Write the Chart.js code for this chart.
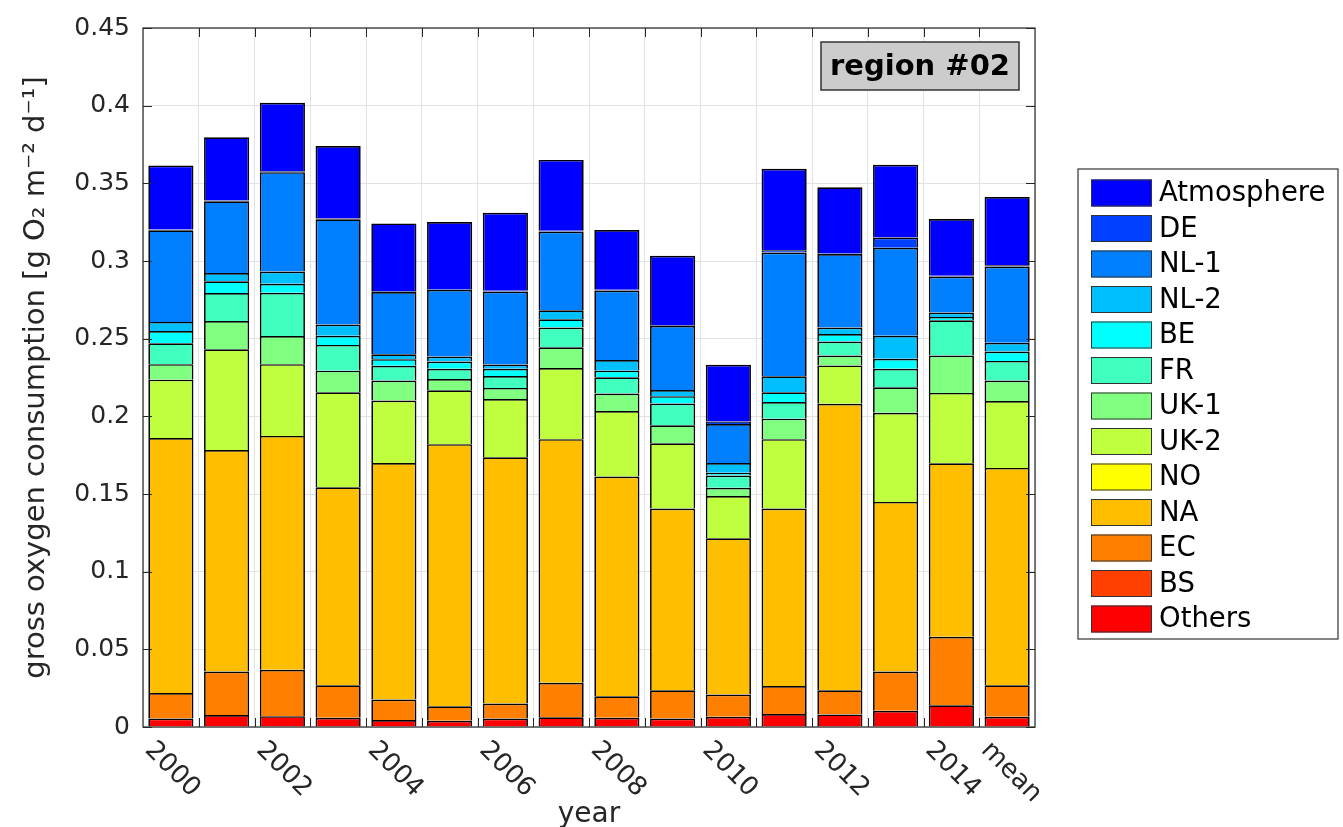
<!DOCTYPE html>
<html>
<head>
<meta charset="utf-8">
<script src="https://cdn.jsdelivr.net/npm/chart.js@4.4.0/dist/chart.umd.min.js"></script>
<style>
  html, body { margin: 0; padding: 0; background: #fff; }
  #wrap { width: 1343px; height: 827px; }
</style>
</head>
<body>
<div id="wrap"><canvas id="chart" width="1343" height="827"></canvas></div>
<script>
// categories on the x axis
const years = ["2000", "2001", "2002", "2003", "2004", "2005", "2006", "2007",
  "2008", "2009", "2010", "2011", "2012", "2013", "2014", "mean"];
// labels printed under the axis (every second year + mean)
const tickLabels = ["2000", "", "2002", "", "2004", "", "2006", "", "2008", "",
  "2010", "", "2012", "", "2014", "mean"];

// contributions per source [g O2 m-2 d-1], stacked bottom to top
const others = [0.0055, 0.0077, 0.0070, 0.0060, 0.0045, 0.0040, 0.0055, 0.0062, 0.0060, 0.0055, 0.0066, 0.0083, 0.0081, 0.0104, 0.0140, 0.0066];
const bs = [0, 0, 0, 0, 0, 0, 0, 0, 0, 0, 0, 0, 0, 0, 0, 0];
const ec = [0.0164, 0.0280, 0.0298, 0.0208, 0.0132, 0.0094, 0.0096, 0.0223, 0.0138, 0.0181, 0.0143, 0.0181, 0.0155, 0.0253, 0.0441, 0.0202];
const na = [0.1641, 0.1426, 0.1506, 0.1275, 0.1523, 0.1687, 0.1585, 0.1568, 0.1415, 0.1170, 0.1006, 0.1142, 0.1845, 0.1092, 0.1117, 0.1400];
const no = [0, 0, 0, 0, 0, 0, 0, 0, 0, 0, 0, 0, 0, 0, 0, 0];
const uk2 = [0.0376, 0.0649, 0.0462, 0.0612, 0.0402, 0.0347, 0.0376, 0.0458, 0.0421, 0.0420, 0.0272, 0.0447, 0.0247, 0.0574, 0.0453, 0.0430];
const uk1 = [0.0100, 0.0181, 0.0181, 0.0139, 0.0128, 0.0072, 0.0071, 0.0134, 0.0113, 0.0116, 0.0053, 0.0132, 0.0064, 0.0164, 0.0241, 0.0132];
const fr = [0.0134, 0.0181, 0.0279, 0.0166, 0.0095, 0.0066, 0.0077, 0.0127, 0.0104, 0.0140, 0.0079, 0.0107, 0.0089, 0.0119, 0.0227, 0.0127];
const be = [0.0079, 0.0076, 0.0057, 0.0059, 0.0043, 0.0047, 0.0046, 0.0053, 0.0043, 0.0048, 0.0017, 0.0063, 0.0049, 0.0064, 0.0021, 0.0060];
const nl2 = [0.0059, 0.0053, 0.0079, 0.0072, 0.0032, 0.0032, 0.0028, 0.0058, 0.0068, 0.0040, 0.0064, 0.0103, 0.0042, 0.0149, 0.0028, 0.0057];
const nl1 = [0.0590, 0.0462, 0.0640, 0.0677, 0.0400, 0.0430, 0.0470, 0.0507, 0.0448, 0.0413, 0.0250, 0.0797, 0.0473, 0.0566, 0.0232, 0.0490];
const de = [0.0005, 0.0005, 0.0005, 0.0005, 0.0005, 0.0005, 0.0005, 0.0005, 0.0005, 0.0005, 0.0016, 0.0015, 0.0005, 0.0066, 0.0005, 0.0008];
const atmosphere = [0.0412, 0.0406, 0.0442, 0.0467, 0.0437, 0.0431, 0.0501, 0.0456, 0.0385, 0.0446, 0.0366, 0.0524, 0.0424, 0.0468, 0.0365, 0.0440];

const series = [
  { label: "Others", data: others, color: "#ff0000" },
  { label: "BS", data: bs, color: "#ff4000" },
  { label: "EC", data: ec, color: "#ff8000" },
  { label: "NA", data: na, color: "#ffbf00" },
  { label: "NO", data: no, color: "#ffff00" },
  { label: "UK-2", data: uk2, color: "#bfff40" },
  { label: "UK-1", data: uk1, color: "#80ff80" },
  { label: "FR", data: fr, color: "#40ffbf" },
  { label: "BE", data: be, color: "#00ffff" },
  { label: "NL-2", data: nl2, color: "#00bfff" },
  { label: "NL-1", data: nl1, color: "#0080ff" },
  { label: "DE", data: de, color: "#0040ff" },
  { label: "Atmosphere", data: atmosphere, color: "#0000ff" },
];

const FONT = '"DejaVu Sans", sans-serif';
const AXIS = "#262626";
const GRID = "#e2e2e2";

// box, inward ticks, rotated x labels, region tag and boxed legend
const matlabLook = {
  id: "matlabLook",
  afterDatasetsDraw(chart) {
    const { ctx, chartArea: a, scales: { x, y } } = chart;
    const half = (x.getPixelForValue(1) - x.getPixelForValue(0)) / 2;
    const tl = 9;
    ctx.save();

    // axes box
    ctx.strokeStyle = AXIS;
    ctx.lineWidth = 1.2;
    ctx.strokeRect(a.left, a.top, a.right - a.left, a.bottom - a.top);

    // inward tick marks
    ctx.beginPath();
    for (let i = 1; i < years.length; i++) {
      const px = Math.round(x.getPixelForValue(i) - half) + 0.5;
      ctx.moveTo(px, a.bottom); ctx.lineTo(px, a.bottom - tl);
      ctx.moveTo(px, a.top); ctx.lineTo(px, a.top + tl);
    }
    y.ticks.forEach((t) => {
      const py = Math.round(y.getPixelForValue(t.value)) + 0.5;
      ctx.moveTo(a.left, py); ctx.lineTo(a.left + tl, py);
      ctx.moveTo(a.right, py); ctx.lineTo(a.right - tl, py);
    });
    ctx.lineWidth = 1;
    ctx.stroke();

    // rotated x tick labels at the left edge of each labelled category
    ctx.fillStyle = AXIS;
    ctx.font = "26px " + FONT;
    ctx.textAlign = "left";
    ctx.textBaseline = "alphabetic";
    tickLabels.forEach((lab, i) => {
      if (!lab) return;
      const bx = x.getPixelForValue(i) - half;
      ctx.save();
      ctx.translate(bx + 1, a.bottom + 24);
      ctx.rotate(Math.PI / 4);
      ctx.fillText(lab, 0, 0);
      ctx.restore();
    });

    // region tag
    const rx = a.right - 214, ry = a.top + 14, rw = 198, rh = 48;
    ctx.fillStyle = "#cccccc";
    ctx.fillRect(rx, ry, rw, rh);
    ctx.strokeStyle = "#333333";
    ctx.lineWidth = 1.5;
    ctx.strokeRect(rx, ry, rw, rh);
    ctx.fillStyle = "#000";
    ctx.font = "bold 29px " + FONT;
    ctx.textAlign = "center";
    ctx.textBaseline = "middle";
    ctx.fillText("region #02", rx + rw / 2, ry + rh / 2 + 1);

    // legend (top entry = top of the stack)
    const lx = 1078, ly = 169, lw = 260, lh = 470;
    ctx.fillStyle = "#fff";
    ctx.fillRect(lx, ly, lw, lh);
    ctx.strokeStyle = "#333333";
    ctx.lineWidth = 1.2;
    ctx.strokeRect(lx, ly, lw, lh);
    ctx.font = "27.5px " + FONT;
    ctx.textAlign = "left";
    ctx.textBaseline = "middle";
    const ds = chart.data.datasets.slice().reverse();
    ds.forEach((d, k) => {
      const cy = 193 + k * 35.5;
      ctx.fillStyle = d.backgroundColor;
      ctx.fillRect(1091, cy - 13.5, 61, 27);
      ctx.strokeStyle = "#333333";
      ctx.lineWidth = 1;
      ctx.strokeRect(1091.5, cy - 13, 60, 26);
      ctx.fillStyle = "#000";
      ctx.fillText(d.label, 1159, cy + 1);
    });

    ctx.restore();
  },
};

new Chart(document.getElementById("chart"), {
  type: "bar",
  data: {
    labels: years,
    datasets: series.map((s) => ({
      label: s.label,
      data: s.data,
      backgroundColor: s.color,
      borderColor: "#000000",
      borderWidth: 1.7,
      borderSkipped: "start",
      barPercentage: 0.81,
      categoryPercentage: 1.0,
    })),
  },
  options: {
    responsive: false,
    animation: false,
    devicePixelRatio: 1,
    layout: { padding: { left: 0, right: 308, top: 22, bottom: 0 } },
    plugins: { legend: { display: false }, tooltip: { enabled: false } },
    scales: {
      x: {
        stacked: true,
        offset: true,
        grid: { offset: true, color: GRID, drawTicks: false },
        border: { display: false },
        ticks: { display: false },
        title: {
          display: true, text: "year", color: AXIS,
          font: { family: FONT, size: 28 }, padding: { top: 0, bottom: -5 },
        },
        afterFit: (scale) => { scale.height = 100; },
      },
      y: {
        stacked: true,
        min: 0,
        max: 0.45,
        grid: { color: GRID, drawTicks: false },
        border: { display: false },
        ticks: {
          stepSize: 0.05,
          padding: 13,
          color: AXIS,
          font: { family: FONT, size: 25 },
          callback: (v) => String(Number(v.toFixed(2))),
        },
        title: {
          display: true,
          text: "gross oxygen consumption [g O\u2082 m\u207B\u00B2 d\u207B\u00B9]",
          color: AXIS,
          font: { family: FONT, size: 29 },
          padding: { top: 19, bottom: 0 },
        },
        afterFit: (scale) => { scale.width = 143; },
      },
    },
  },
  plugins: [matlabLook],
});
</script>
</body>
</html>
